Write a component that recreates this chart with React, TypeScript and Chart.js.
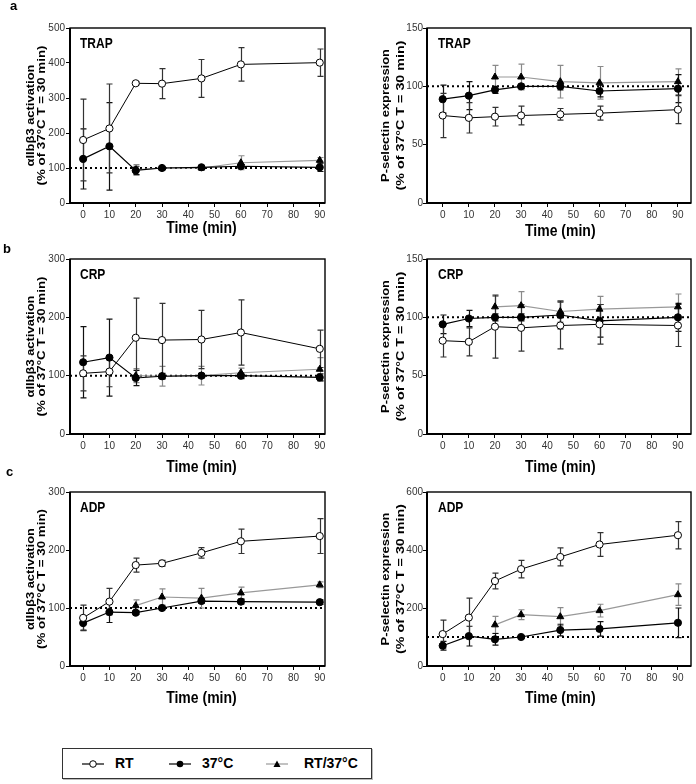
import React, { useEffect, useRef } from 'react';
import { Chart, registerables } from 'chart.js';

Chart.register(...registerables);

const FONT = '"Liberation Sans", Arial, Helvetica, sans-serif';

// ---------- shared categories ----------
const TIMES = [0, 10, 20, 30, 45, 60, 90];
const MIX_TIMES = [20, 30, 45, 60, 90];
const X_TICKS = [0, 10, 20, 30, 40, 50, 60, 70, 80, 90];
const SERIES_NAMES = ['RT', '37°C', 'RT/37°C'];
const X_TITLE = 'Time (min)';
const Y_TITLE_INT = ['αIIbβ3 activation', '(% of 37°C T = 30 min)'];
const Y_TITLE_PSEL = ['P-selectin expression', '(% of 37°C T = 30 min)'];
const REF_VALUE = 100;

// ---------- a: TRAP, αIIbβ3 ----------
const trapIntRT = [180, 213, 342, 341, 356, 396, 401];
const trapIntRTErr = [117, 127, 4, 43, 54, 48, 39];
const trapInt37 = [126, 162, 93, 100, 102, 105, 102];
const trapInt37Err = [86, 125, 12, 3, 5, 5, 12];
const trapIntMix = [95, 100, 100, 115, 122];
const trapIntMixErr = [15, 3, 4, 20, 8];

// ---------- a: TRAP, P-selectin ----------
const trapPselRT = [75, 73, 74, 75, 76, 77, 80];
const trapPselRTErr = [19, 13, 8, 8, 5, 6, 12];
const trapPsel37 = [89, 92, 97, 100, 100, 96, 98];
const trapPsel37Err = [12, 12, 3, 2, 3, 5, 12];
const trapPselMix = [108, 108, 104, 103, 104];
const trapPselMixErr = [10, 11, 14, 14, 11];

// ---------- b: CRP, αIIbβ3 ----------
const crpIntRT = [104, 107, 165, 161, 162, 174, 146];
const crpIntRTErr = [30, 26, 68, 63, 50, 56, 32];
const crpInt37 = [123, 131, 96, 99, 100, 100, 97];
const crpInt37Err = [61, 66, 13, 5, 4, 5, 6];
const crpIntMix = [100, 99, 100, 105, 111];
const crpIntMixErr = [12, 17, 16, 8, 20];

// ---------- b: CRP, P-selectin ----------
const crpPselRT = [80, 79, 92, 91, 93, 94, 93];
const crpPselRTErr = [14, 12, 27, 20, 20, 17, 18];
const crpPsel37 = [94, 99, 100, 100, 102, 97, 100];
const crpPsel37Err = [8, 7, 3, 3, 12, 14, 12];
const crpPselMix = [109, 110, 105, 107, 109];
const crpPselMixErr = [9, 12, 9, 11, 11];

// ---------- c: ADP, αIIbβ3 ----------
const adpIntRT = [83, 111, 174, 177, 195, 215, 224];
const adpIntRTErr = [22, 23, 12, 5, 9, 21, 30];
const adpInt37 = [74, 93, 92, 100, 112, 111, 110];
const adpInt37Err = [12, 18, 3, 3, 4, 4, 4];
const adpIntMix = [104, 119, 117, 126, 140];
const adpIntMixErr = [10, 14, 17, 10, 5];

// ---------- c: ADP, P-selectin ----------
const adpPselRT = [110, 167, 293, 334, 376, 419, 451];
const adpPselRTErr = [48, 67, 27, 30, 31, 41, 47];
const adpPsel37 = [70, 103, 92, 100, 124, 128, 149];
const adpPsel37Err = [15, 34, 20, 5, 20, 25, 51];
const adpPselMix = [142, 177, 170, 191, 246];
const adpPselMixErr = [29, 17, 31, 22, 37];

// ---------- panel axis ranges ----------
const PANEL_LABELS = ['TRAP', 'TRAP', 'CRP', 'CRP', 'ADP', 'ADP'];
const Y_MAX = [500, 150, 300, 150, 300, 600];
const Y_STEP = [100, 50, 100, 50, 100, 200];

const toPoints = (xs: number[], ys: number[]) => xs.map((x, i) => ({ x, y: ys[i] }));

const errorBarPlugin = {
  id: 'errorBars',
  beforeDatasetsDraw(chart: any) {
    const { ctx } = chart;
    const xs = chart.scales.x;
    const ys = chart.scales.y;
    const sets = chart.data.datasets.slice().reverse();
    sets.forEach((ds: any) => {
      if (!ds.errors) return;
      ctx.save();
      ctx.strokeStyle = ds.errorColor;
      ctx.lineWidth = 1.2;
      ds.data.forEach((p: any, i: number) => {
        const e = ds.errors[i];
        const px = Math.round(xs.getPixelForValue(p.x)) + 0.5;
        const yt = ys.getPixelForValue(p.y + e);
        const yb = ys.getPixelForValue(p.y - e);
        ctx.beginPath();
        ctx.moveTo(px, yt);
        ctx.lineTo(px, yb);
        ctx.moveTo(px - 3, yt);
        ctx.lineTo(px + 3, yt);
        ctx.moveTo(px - 3, yb);
        ctx.lineTo(px + 3, yb);
        ctx.stroke();
      });
      ctx.restore();
    });
  },
};

const framePlugin = {
  id: 'frameAndRef',
  beforeDatasetsDraw(chart: any, _args: any, opts: any) {
    const { ctx, chartArea: a } = chart;
    const y = chart.scales.y.getPixelForValue(opts.refValue);
    ctx.save();
    ctx.setLineDash([2, 3]);
    ctx.lineWidth = 2;
    ctx.strokeStyle = '#000';
    ctx.beginPath();
    ctx.moveTo(a.left, y);
    ctx.lineTo(a.right, y);
    ctx.stroke();
    ctx.restore();
  },
  afterDraw(chart: any, _args: any, opts: any) {
    const { ctx, chartArea: a } = chart;
    ctx.save();
    ctx.strokeStyle = '#000';
    ctx.lineWidth = 1.4;
    ctx.strokeRect(a.left, a.top, a.right - a.left, a.bottom - a.top);
    ctx.lineWidth = 2;
    ctx.beginPath();
    ctx.moveTo(a.left, a.top);
    ctx.lineTo(a.left, a.bottom);
    ctx.lineTo(a.right, a.bottom);
    ctx.stroke();
    ctx.fillStyle = '#000';
    ctx.textBaseline = 'middle';
    ctx.textAlign = 'left';
    // panel label (agonist)
    ctx.save();
    ctx.translate(a.left + opts.labelDx, a.top + 16);
    ctx.scale(1, 1.15);
    ctx.font = `bold 12px ${FONT}`;
    ctx.fillText(opts.label, 0, 0);
    ctx.restore();
    // y-axis title, two lines, stretched along the text to the reference length
    const midY = (a.top + a.bottom) / 2;
    opts.yLines.forEach((line: string, i: number) => {
      ctx.save();
      ctx.font = `bold ${opts.yFont}px ${FONT}`;
      const w = ctx.measureText(line).width;
      ctx.translate(opts.yCenters[i], midY);
      ctx.rotate(-Math.PI / 2);
      ctx.scale(opts.yLens[i] / w, 1);
      ctx.textAlign = 'center';
      ctx.fillText(line, 0, 0);
      ctx.restore();
    });
    // x-axis title
    const xs = chart.scales.x;
    ctx.save();
    ctx.translate(xs.getPixelForValue(45), opts.xTitleY);
    ctx.scale(1, 1.18);
    ctx.font = `bold 14px ${FONT}`;
    ctx.textAlign = 'center';
    ctx.fillText(opts.xTitle, 0, 0);
    ctx.restore();
    ctx.restore();
  },
};

type PanelSpec = {
  left: number;
  top: number;
  L: number;
  T: number;
  R: number;
  B: number;
  H: number;
  xTitleY: number;
  xMin: number;
  xMax: number;
  idx: number;
  yTitle: string[];
  yFont: number;
  yCenters: number[];
  yLens: number[];
  yTickPad: number;
  labelDx: number;
  rt: number[];
  rtErr: number[];
  c37: number[];
  c37Err: number[];
  mix: number[];
  mixErr: number[];
};

const W = 348;
const HGT = 240;

function Panel({ spec }: { spec: PanelSpec }) {
  const ref = useRef<HTMLCanvasElement | null>(null);
  useEffect(() => {
    if (!ref.current) return;
    const s = spec;
    const chart = new Chart(ref.current, {
      type: 'line',
      data: {
        datasets: [
          {
            label: SERIES_NAMES[0],
            data: toPoints(TIMES, s.rt),
            borderColor: '#000',
            borderWidth: 1,
            pointStyle: 'circle',
            pointRadius: 3.6,
            pointBackgroundColor: '#fff',
            pointBorderColor: '#000',
            pointBorderWidth: 1,
            errors: s.rtErr,
            errorColor: '#333',
          } as any,
          {
            label: SERIES_NAMES[1],
            data: toPoints(TIMES, s.c37),
            borderColor: '#000',
            borderWidth: 1.2,
            pointStyle: 'circle',
            pointRadius: 3.6,
            pointBackgroundColor: '#000',
            pointBorderColor: '#000',
            pointBorderWidth: 1,
            errors: s.c37Err,
            errorColor: '#111',
          } as any,
          {
            label: SERIES_NAMES[2],
            data: toPoints(MIX_TIMES, s.mix),
            borderColor: '#999',
            borderWidth: 1.2,
            pointStyle: 'triangle',
            pointRadius: 4,
            pointBackgroundColor: '#000',
            pointBorderColor: '#000',
            pointBorderWidth: 1,
            errors: s.mixErr,
            errorColor: '#8a8a8a',
          } as any,
        ],
      },
      options: {
        responsive: false,
        animation: false,
        events: [],
        layout: {
          padding: { left: 0, top: s.T, right: W - s.R, bottom: HGT - s.B - s.H },
        },
        plugins: {
          legend: { display: false },
          tooltip: { enabled: false },
          frameAndRef: {
            refValue: REF_VALUE,
            label: PANEL_LABELS[s.idx],
            labelDx: s.labelDx,
            yLines: s.yTitle,
            yFont: s.yFont,
            yCenters: s.yCenters,
            yLens: s.yLens,
            xTitle: X_TITLE,
            xTitleY: s.xTitleY,
          },
        } as any,
        scales: {
          x: {
            type: 'linear',
            min: s.xMin,
            max: s.xMax,
            afterBuildTicks: (axis: any) => {
              axis.ticks = X_TICKS.map((v) => ({ value: v }));
            },
            afterFit: (axis: any) => {
              axis.height = s.H;
            },
            ticks: {
              color: '#333',
              font: { family: FONT, size: 10 },
              padding: 2,
              autoSkip: false,
              maxRotation: 0,
            },
            grid: { drawOnChartArea: false, drawTicks: true, tickLength: 4, color: '#000', lineWidth: 1 },
            border: { display: false },
            title: { display: false },
          },
          y: {
            type: 'linear',
            min: 0,
            max: Y_MAX[s.idx],
            ticks: {
              stepSize: Y_STEP[s.idx],
              color: '#333',
              font: { family: FONT, size: 10 },
              padding: s.yTickPad,
            },
            afterFit: (axis: any) => {
              axis.width = s.L;
            },
            grid: { drawOnChartArea: false, drawTicks: true, tickLength: 4, color: '#000', lineWidth: 1 },
            border: { display: false },
            title: { display: false },
          },
        },
      } as any,
      plugins: [framePlugin, errorBarPlugin],
    });
    return () => chart.destroy();
  }, [spec]);
  return (
    <canvas
      ref={ref}
      width={W}
      height={HGT}
      style={{ position: 'absolute', left: spec.left, top: spec.top, width: W, height: HGT }}
    />
  );
}

const leftBase = {
  L: 70, R: 325, xMin: -5, xMax: 92,
  yTitle: Y_TITLE_INT, yFont: 10.5, yCenters: [31, 42], yLens: [102, 140], yTickPad: 1, labelDx: 10,
};
const rightBase = {
  L: 79, R: 343, xMin: -6, xMax: 95,
  yTitle: Y_TITLE_PSEL, yFont: 11.5, yCenters: [37.5, 52.5], yLens: [133, 150], yTickPad: 0, labelDx: 11,
};

const PANELS: PanelSpec[] = [
  { ...leftBase, left: 0, top: 0, T: 28, B: 203, H: 32, xTitleY: 228, idx: 0, rt: trapIntRT, rtErr: trapIntRTErr, c37: trapInt37, c37Err: trapInt37Err, mix: trapIntMix, mixErr: trapIntMixErr },
  { ...rightBase, left: 348, top: 0, T: 28, B: 203, H: 35, xTitleY: 231, idx: 1, rt: trapPselRT, rtErr: trapPselRTErr, c37: trapPsel37, c37Err: trapPsel37Err, mix: trapPselMix, mixErr: trapPselMixErr },
  { ...leftBase, left: 0, top: 240, T: 19, B: 194, H: 40, xTitleY: 227, idx: 2, rt: crpIntRT, rtErr: crpIntRTErr, c37: crpInt37, c37Err: crpInt37Err, mix: crpIntMix, mixErr: crpIntMixErr },
  { ...rightBase, left: 348, top: 240, T: 19, B: 194, H: 40, xTitleY: 227, idx: 3, rt: crpPselRT, rtErr: crpPselRTErr, c37: crpPsel37, c37Err: crpPsel37Err, mix: crpPselMix, mixErr: crpPselMixErr },
  { ...leftBase, left: 0, top: 480, T: 12, B: 186, H: 39, xTitleY: 218, idx: 4, rt: adpIntRT, rtErr: adpIntRTErr, c37: adpInt37, c37Err: adpInt37Err, mix: adpIntMix, mixErr: adpIntMixErr },
  { ...rightBase, left: 348, top: 480, T: 12, B: 186, H: 39, xTitleY: 218, idx: 5, rt: adpPselRT, rtErr: adpPselRTErr, c37: adpPsel37, c37Err: adpPsel37Err, mix: adpPselMix, mixErr: adpPselMixErr },
];

function LegendIcon({ kind }: { kind: number }) {
  const lineColor = kind === 2 ? '#999' : '#000';
  return (
    <svg width={22} height={10} style={{ display: 'block' }}>
      <line x1={0} y1={5} x2={22} y2={5} stroke={lineColor} strokeWidth={1.2} />
      {kind === 0 && <circle cx={11} cy={5} r={3.3} fill="#fff" stroke="#000" strokeWidth={1} />}
      {kind === 1 && <circle cx={11} cy={5} r={3.3} fill="#000" />}
      {kind === 2 && <polygon points="11,1.5 14.5,8 7.5,8" fill="#000" />}
    </svg>
  );
}

const LEGEND_ICON_X = [82, 169, 266];
const LEGEND_TEXT_X = [115, 202, 304];

export default function App() {
  const letterStyle: React.CSSProperties = {
    position: 'absolute',
    fontFamily: FONT,
    fontWeight: 'bold',
    fontSize: 13,
    lineHeight: '14px',
    color: '#000',
  };
  return (
    <div style={{ position: 'absolute', left: 0, top: 0, width: 696, height: 784, background: '#fff', overflow: 'hidden' }}>
      {PANELS.map((p, i) => (
        <Panel key={i} spec={p} />
      ))}
      <div style={{ ...letterStyle, left: 10, top: -1 }}>a</div>
      <div style={{ ...letterStyle, left: 3, top: 242 }}>b</div>
      <div style={{ ...letterStyle, left: 6, top: 465 }}>c</div>
      <div
        style={{
          position: 'absolute',
          left: 62,
          top: 748,
          width: 310,
          height: 31,
          border: '1px solid #333',
          boxSizing: 'border-box',
          boxShadow: '1px 1px 0 #bbb',
        }}
      />
      {SERIES_NAMES.map((name, i) => (
        <React.Fragment key={name}>
          <div style={{ position: 'absolute', left: LEGEND_ICON_X[i], top: 758.5 }}>
            <LegendIcon kind={i} />
          </div>
          <div
            style={{
              position: 'absolute',
              left: LEGEND_TEXT_X[i],
              top: 755,
              fontFamily: FONT,
              fontWeight: 'bold',
              fontSize: 14,
              lineHeight: '16px',
              color: '#000',
              whiteSpace: 'nowrap',
            }}
          >
            {name}
          </div>
        </React.Fragment>
      ))}
    </div>
  );
}
